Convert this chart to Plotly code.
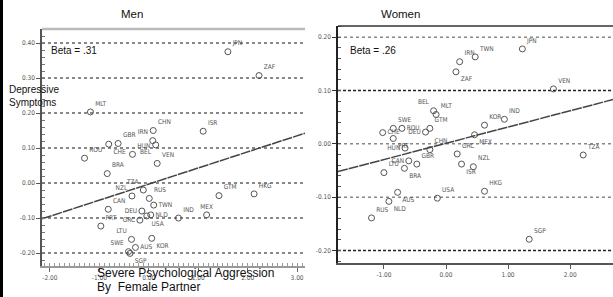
import plotly.graph_objects as go

# ---------------- data ----------------
men_labels = ["JPN", "ZAF", "MLT", "CHN", "ISR", "IRN", "GBR", "CHE", "ROU", "HUN", "BEL",
              "VEN", "BRA", "TZA", "RUS", "NZL", "CAN", "TWN", "DEU", "GRC", "USA", "NLD",
              "PRT", "IND", "MEX", "GTM", "HKG", "LTU", "AUS", "KOR", "SWE", "SGP"]
men_x = [1.60, 2.23, -1.18, 0.09, 1.10, 0.08, -0.62, -0.81, -1.30, -0.33, 0.14,
         0.17, -0.84, -0.11, 0.01, -0.34, -0.82, 0.10, -0.14, -0.18, -0.04, 0.04,
         -0.97, 0.60, 1.17, 1.42, 2.13, -0.35, -0.27, 0.06, -0.41, -0.38]
men_y = [0.375, 0.307, 0.203, 0.150, 0.148, 0.121, 0.113, 0.111, 0.071, 0.082, 0.109,
         0.056, 0.027, -0.020, -0.044, -0.037, -0.075, -0.063, -0.080, -0.106, -0.094, -0.091,
         -0.123, -0.100, -0.091, -0.036, -0.031, -0.161, -0.184, -0.158, -0.196, -0.201]
men_fit_intercept = -0.003
men_fit_slope = 0.046
men_beta = "Beta = .31"

women_labels = ["JPN", "TWN", "IRN", "ZAF", "VEN", "BEL", "MLT", "GTM", "IND", "KOR", "SWE",
                "CHE", "ROU", "DEU", "PRT", "CHN", "GBR", "HUN", "GRC", "MEX", "TZA", "NZL",
                "ISR", "LTU", "CAN", "BRA", "HKG", "USA", "AUS", "RUS", "NLD", "SGP"]
women_x = [1.23, 0.47, 0.22, 0.16, 1.73, -0.20, -0.16, -0.26, 0.94, 0.62, -0.85,
           -1.02, -0.71, -0.33, -0.85, -0.26, -0.47, -0.66, 0.18, 0.46, 2.21, 0.44,
           0.25, -1.00, -0.60, -0.67, 0.62, -0.14, -0.78, -1.20, -0.92, 1.34]
women_y = [0.178, 0.163, 0.154, 0.135, 0.103, 0.062, 0.055, 0.029, 0.046, 0.035, 0.029,
           0.021, 0.029, 0.022, 0.010, -0.011, -0.038, -0.008, -0.019, 0.017, -0.021, -0.043,
           -0.038, -0.054, -0.032, -0.046, -0.089, -0.102, -0.091, -0.139, -0.108, -0.179]
women_fit_intercept = 0.001
women_fit_slope = 0.0305
women_beta = "Beta = .26"

men_xticks = [-2, -1, 0, 1, 2, 3]
men_yticks = [-0.2, -0.1, 0.0, 0.1, 0.2, 0.3, 0.4]
women_xticks = [-1, 0, 1, 2]
women_yticks = [-0.2, -0.1, 0.0, 0.1, 0.2]
women_dark_grid = [-0.2, 0.1]

y_title = ["Depressive", "Symptoms"]
x_title = ["Severe Psychological Aggression", "By\u00a0 Female Partner"]
panel_titles = ["Men", "Women"]

# ---------------- styles ----------------
men_textpos = ["top right", "top right", "top right", "top right", "top right", "top left",
               "top right", "bottom right", "top right", "top right", "bottom left",
               "top right", "top right", "top left", "top right", "top left", "top right",
               "middle right", "middle left", "middle left", "bottom right", "middle right",
               "top right", "top right", "top center", "top right", "top right", "top left",
               "middle right", "bottom right", "top left", "bottom right"]
women_textpos = ["top right", "top right", "top right", "bottom right", "top right", "top left",
                 "top right", "top right", "top right", "top right", "top right",
                 "middle right", "middle right", "middle left", "bottom right", "top right",
                 "top right", "middle left", "top right", "bottom right", "top right", "top right",
                 "bottom right", "top right", "middle left", "bottom right", "top right",
                 "top right", "bottom right", "top right", "bottom right", "top right"]

W, H = 613, 297
MEN_XR = [-2.16, 3.16]
MEN_YR = [-0.237, 0.44]
WOM_XR = [-1.74, 2.69]
WOM_YR = [-0.223, 0.221]

small_font = dict(family="Liberation Sans Narrow, DejaVu Sans Condensed, Arial Narrow, sans-serif",
                  size=6.5, color="#555")
text_font = dict(family="Liberation Sans, Arial, sans-serif", color="#111")

fig = go.Figure()

marker_style = dict(symbol="circle-open", size=6, color="#555", line=dict(width=1, color="#555"))

fig.add_trace(go.Scatter(x=men_x, y=men_y, mode="markers+text", text=men_labels,
                         textposition=men_textpos, textfont=small_font,
                         marker=marker_style, xaxis="x", yaxis="y", showlegend=False,
                         cliponaxis=False))
fig.add_trace(go.Scatter(x=MEN_XR, y=[men_fit_intercept + men_fit_slope * v for v in MEN_XR],
                         mode="lines", line=dict(color="#444", width=1.5, dash="10px,1px"),
                         xaxis="x", yaxis="y", showlegend=False))

fig.add_trace(go.Scatter(x=women_x, y=women_y, mode="markers+text", text=women_labels,
                         textposition=women_textpos, textfont=small_font,
                         marker=marker_style, xaxis="x2", yaxis="y2", showlegend=False,
                         cliponaxis=False))
fig.add_trace(go.Scatter(x=WOM_XR, y=[women_fit_intercept + women_fit_slope * v for v in WOM_XR],
                         mode="lines", line=dict(color="#444", width=1.5, dash="10px,1px"),
                         xaxis="x2", yaxis="y2", showlegend=False))

def fmt(v):
    return f"{v:.2f}"

men_xdom = [42 / W, 305 / W]
men_ydom = [1 - 266 / H, 1 - 29 / H]
wom_xdom = [338 / W, 1.0]
wom_ydom = [1 - 262.7 / H, 1 - 26 / H]

fig.update_layout(
    width=W, height=H, margin=dict(l=0, r=0, t=0, b=0),
    paper_bgcolor="white", plot_bgcolor="white",
    xaxis=dict(domain=men_xdom, range=MEN_XR, tickvals=men_xticks,
               ticktext=[fmt(v) for v in men_xticks], tickfont=small_font,
               showgrid=False, zeroline=False, showline=True, linecolor="#999", linewidth=2,
               ticks="outside", ticklen=4, tickcolor="#666",
               minor=dict(dtick=0.1, ticks="inside", ticklen=3, tickcolor="#999", showgrid=False),
               anchor="y", automargin=False),
    yaxis=dict(domain=men_ydom, range=MEN_YR, tickvals=men_yticks,
               ticktext=[fmt(v) for v in men_yticks], tickfont=small_font,
               showgrid=True, gridcolor="#888", griddash="dot", gridwidth=1.5,
               zeroline=False, showline=True, linecolor="#555", linewidth=1.5,
               ticks="outside", ticklen=4, tickcolor="#555",
               minor=dict(dtick=0.02, ticks="inside", ticklen=3, tickcolor="#777", showgrid=False),
               anchor="x", automargin=False),
    xaxis2=dict(domain=wom_xdom, range=WOM_XR, tickvals=women_xticks,
                ticktext=[fmt(v) for v in women_xticks], tickfont=small_font,
                showgrid=False, zeroline=False, showline=True, linecolor="#555", linewidth=1.5,
                ticks="outside", ticklen=5, tickcolor="#555", anchor="y2", automargin=False),
    yaxis2=dict(domain=wom_ydom, range=WOM_YR, tickvals=women_yticks,
                ticktext=[fmt(v) for v in women_yticks], tickfont=small_font,
                showgrid=False, zeroline=False, showline=True, linecolor="#222", linewidth=1.5,
                ticks="outside", ticklen=4, tickcolor="#333",
                minor=dict(dtick=0.02, ticks="inside", ticklen=3, tickcolor="#555", showgrid=False),
                anchor="x2", automargin=False),
)

shapes = []
# Women gridlines
for v in women_yticks:
    dark = v in women_dark_grid
    shapes.append(dict(type="line", xref="x2 domain", yref="y2", x0=0, x1=1, y0=v, y1=v,
                       line=dict(color="#222" if dark else "#888", width=1.5,
                                 dash="3px,2px" if dark else "dot"), layer="below"))
# top borders
shapes.append(dict(type="line", xref="x domain", yref="y domain", x0=0, x1=1, y0=1, y1=1,
                   line=dict(color="#bbb", width=2.5)))
shapes.append(dict(type="line", xref="x2 domain", yref="y2 domain", x0=0, x1=1, y0=1, y1=1,
                   line=dict(color="#333", width=1.5)))
# left page border
shapes.append(dict(type="rect", xref="paper", yref="paper", x0=0, x1=3 / W, y0=0, y1=1,
                   fillcolor="black", line=dict(width=0)))
fig.update_layout(shapes=shapes)

ann = []
ann.append(dict(text=panel_titles[0], x=132 / W, y=1 - 14 / H, xref="paper", yref="paper",
                showarrow=False, font=dict(text_font, size=11.5), xanchor="center", yanchor="middle"))
ann.append(dict(text=panel_titles[1], x=400 / W, y=1 - 14 / H, xref="paper", yref="paper",
                showarrow=False, font=dict(text_font, size=11.5), xanchor="center", yanchor="middle"))
ann.append(dict(text=men_beta, x=49 / W, y=1 - 50 / H, xref="paper", yref="paper",
                showarrow=False, font=dict(text_font, size=10), xanchor="left", yanchor="middle"))
ann.append(dict(text=women_beta, x=348 / W, y=1 - 50 / H, xref="paper", yref="paper",
                showarrow=False, font=dict(text_font, size=10), xanchor="left", yanchor="middle"))
for i, t in enumerate(y_title):
    ann.append(dict(text=t, x=7 / W, y=1 - (90 + 12 * i) / H, xref="paper", yref="paper",
                    showarrow=False, font=dict(text_font, size=10), xanchor="left", yanchor="middle"))
for i, t in enumerate(x_title):
    ann.append(dict(text=t, x=95 / W, y=1 - (273 + 14 * i) / H, xref="paper", yref="paper",
                    showarrow=False, font=dict(text_font, size=12), xanchor="left", yanchor="middle"))
fig.update_layout(annotations=ann)

fig.write_html("out.html", config={"displayModeBar": False},
               post_script="document.body.style.margin='0';document.body.style.overflow='hidden';")
